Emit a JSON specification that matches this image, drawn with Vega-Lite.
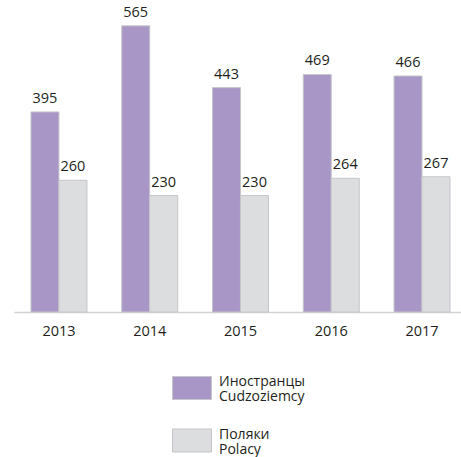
{
  "$schema": "https://vega.github.io/schema/vega-lite/v6.json",
  "width": 447,
  "height": 312,
  "autosize": {"type": "none"},
  "padding": {"left": 14, "top": 0, "right": 0, "bottom": 145},
  "background": "white",
  "data": {
    "values": [
      {"year": "2013", "group": "Иностранцы Cudzoziemcy", "value": 395},
      {"year": "2013", "group": "Поляки Polacy", "value": 260},
      {"year": "2014", "group": "Иностранцы Cudzoziemcy", "value": 565},
      {"year": "2014", "group": "Поляки Polacy", "value": 230},
      {"year": "2015", "group": "Иностранцы Cudzoziemcy", "value": 443},
      {"year": "2015", "group": "Поляки Polacy", "value": 230},
      {"year": "2016", "group": "Иностранцы Cudzoziemcy", "value": 469},
      {"year": "2016", "group": "Поляки Polacy", "value": 264},
      {"year": "2017", "group": "Иностранцы Cudzoziemcy", "value": 466},
      {"year": "2017", "group": "Поляки Polacy", "value": 267}
    ]
  },
  "encoding": {
    "x": {
      "field": "year",
      "type": "nominal",
      "scale": {"paddingInner": 0.383, "paddingOuter": 0.154, "align": 0.607},
      "axis": {
        "title": null,
        "labelAngle": 0,
        "domain": true,
        "domainColor": "#d2d3d5",
        "domainWidth": 1.5,
        "ticks": false,
        "labelFont": "Open Sans",
        "labelFontSize": 14.5,
        "labelColor": "#231f20",
        "labelPadding": 12
      }
    },
    "xOffset": {
      "field": "group",
      "type": "nominal",
      "scale": {"paddingInner": 0, "paddingOuter": 0, "domain": ["Иностранцы Cudzoziemcy", "Поляки Polacy"]}
    },
    "y": {
      "field": "value",
      "type": "quantitative",
      "scale": {"domain": [0, 616], "nice": false},
      "axis": null
    }
  },
  "layer": [
    {
      "mark": {"type": "bar", "stroke": "#c6c6ca", "strokeWidth": 1},
      "encoding": {
        "color": {
          "field": "group",
          "type": "nominal",
          "scale": {"domain": ["Иностранцы Cudzoziemcy", "Поляки Polacy"], "range": ["#a897c6", "#dcdddf"]},
          "legend": {
            "title": null,
            "orient": "none",
            "legendX": 158,
            "legendY": 368,
            "direction": "vertical",
            "symbolType": "M-1,-0.59H1V0.59H-1Z",
            "symbolSize": 1521,
            "symbolStrokeColor": "#c6c6ca",
            "symbolStrokeWidth": 1,
            "symbolOpacity": 1,
            "rowPadding": 16.5,
            "labelOffset": 7,
            "labelFont": "Open Sans",
            "labelFontSize": 14,
            "labelColor": "#231f20",
            "labelExpr": "split(datum.label, ' ')",
            "labelLimit": 200,
            "encode": {"labels": {"update": {"dy": {"value": -6}}}}
          }
        }
      }
    },
    {
      "mark": {"type": "text", "baseline": "bottom", "dy": -6, "font": "Open Sans", "fontSize": 14.5, "color": "#231f20"},
      "encoding": {
        "text": {"field": "value", "type": "quantitative"}
      }
    }
  ],
  "config": {
    "view": {"stroke": null},
    "style": {"guide-label": {"lineHeight": 15}}
  }
}
